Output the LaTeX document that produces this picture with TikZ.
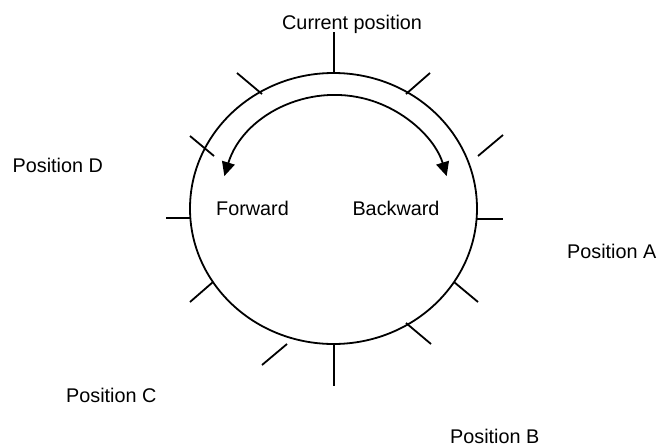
\documentclass[tikz,border=0pt]{standalone}
\usepackage{fontspec}
\setmainfont{Liberation Sans}
\usetikzlibrary{arrows.meta}

\begin{document}
\begin{tikzpicture}[
  x=1pt, y=-1pt,
  lbl/.style={font=\fontsize{19.8}{24}\selectfont, inner sep=0pt},
  ring/.style={draw, line width=1.8pt},
  tick/.style={line width=1.8pt},
  arr/.style={{Triangle[length=14pt,width=13pt]}-{Triangle[length=14pt,width=13pt]}, line width=1.8pt}
]
\useasboundingbox (0,0) rectangle (659,447);
\coordinate (c) at (333.5,208.5);
\coordinate (m) at (335.5,208.5);
\draw[ring] (c) ellipse [x radius=143.5pt, y radius=135.5pt];
\draw[arr] ([shift={(163.4:116pt and 113.5pt)}]m) arc [start angle=163.4, end angle=16.6, x radius=116pt, y radius=113.5pt];
\foreach \xa/\ya/\xb/\yb in {334/32/334/73, 237/73/262/94, 430/73/406/94,
  190/136/214/156, 503/135/478/156, 166/218/190/218, 477/219/503/219,
  190/302/213/282, 454/282/478/302, 262/365/287/344, 406/323/431/344,
  334/344/334/386}
  \draw[tick] (\xa,\ya) -- (\xb,\yb);
\node[lbl, anchor=base west] (cur) at (282,29) {Current position};
\node[lbl, anchor=base west] (posD) at (12.5,172.7) {Position D};
\node[lbl, anchor=base] (fwd) at (252.5,215) {Forward};
\node[lbl, anchor=base] (bwd) at (396,215) {Backward};
\node[lbl, anchor=base east] (posA) at (656.5,258) {Position A};
\node[lbl, anchor=base west] (posC) at (66,402.7) {Position C};
\node[lbl, anchor=base west] (posB) at (450,443) {Position B};
\end{tikzpicture}
\end{document}
